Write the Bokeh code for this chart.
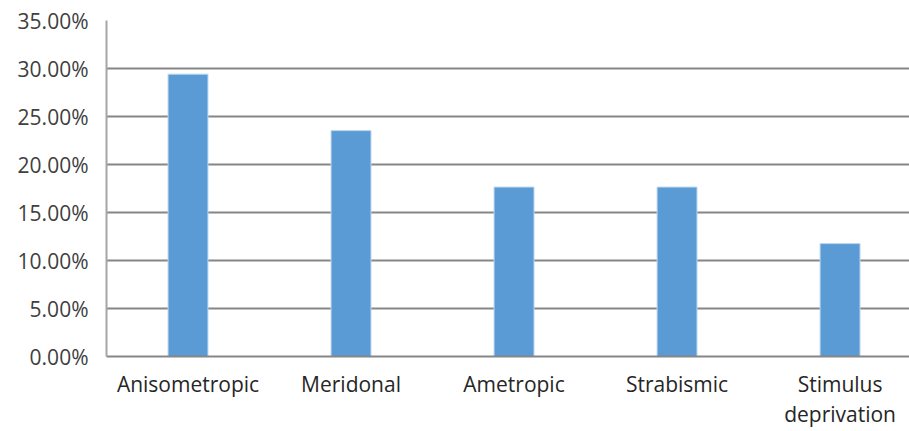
from bokeh.plotting import figure
from bokeh.models import Range1d, FixedTicker, NumeralTickFormatter, ColumnDataSource
from bokeh.embed import file_html
from bokeh.resources import INLINE

categories = ["Anisometropic", "Meridonal", "Ametropic", "Strabismic", "Stimulus\ndeprivation"]
values = [0.2941, 0.2353, 0.1765, 0.1765, 0.1176]
y_ticks = [0.0, 0.05, 0.10, 0.15, 0.20, 0.25, 0.30, 0.35]

xs = [i + 0.5 for i in range(len(categories))]
src = ColumnDataSource(dict(x=xs, top=values))

p = figure(width=909, height=431, output_backend="svg", toolbar_location=None,
           x_range=Range1d(0, 4.926), y_range=Range1d(0, 0.35),
           min_border_left=106, min_border_right=0, min_border_top=20, min_border_bottom=74)
p.outline_line_color = None
p.background_fill_color = "white"
p.border_fill_color = "white"

p.vbar(x="x", top="top", width=0.245, bottom=0, source=src,
       fill_color="#5B9BD5", line_color="#BDD7EE", line_width=1)

p.yaxis.ticker = FixedTicker(ticks=y_ticks)
p.yaxis.formatter = NumeralTickFormatter(format="0.00%")
p.yaxis.major_tick_line_color = None
p.yaxis.minor_tick_line_color = None
p.yaxis.axis_line_color = "#A6A6A6"
p.yaxis.axis_line_width = 2
p.yaxis.major_label_text_font = "Open Sans"
p.yaxis.major_label_text_font_size = "21px"
p.yaxis.major_label_text_color = "#404040"
p.yaxis.major_label_standoff = 12

p.xaxis.ticker = FixedTicker(ticks=xs)
p.xaxis.major_label_overrides = {x: c for x, c in zip(xs, categories)}
p.xaxis.major_tick_line_color = None
p.xaxis.minor_tick_line_color = None
p.xaxis.axis_line_color = "#868686"
p.xaxis.axis_line_width = 2
p.xaxis.major_label_text_font = "Open Sans"
p.xaxis.major_label_text_font_size = "21px"
p.xaxis.major_label_text_color = "#262626"
p.xaxis.major_label_standoff = 7
p.xaxis.major_label_text_line_height = 1.1

p.xgrid.grid_line_color = None
p.ygrid.ticker = FixedTicker(ticks=y_ticks)
p.ygrid.grid_line_color = "#868686"
p.ygrid.grid_line_width = 2

open("out.html", "w").write(file_html(p, INLINE))
